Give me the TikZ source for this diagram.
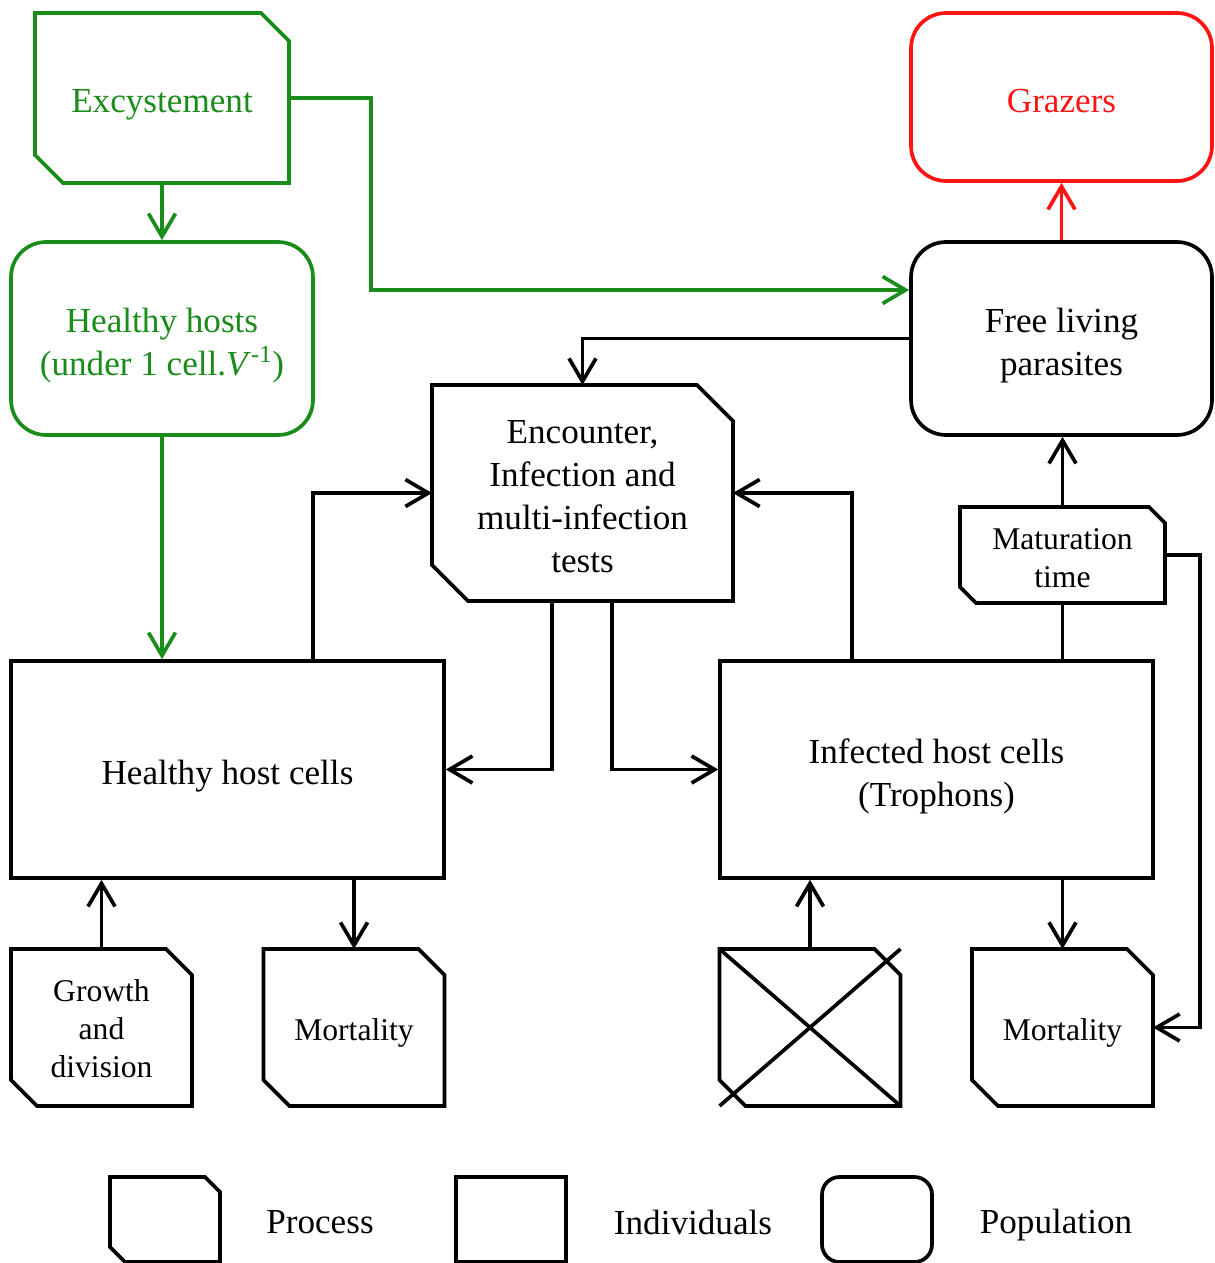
\documentclass[tikz,border=0pt]{standalone}
\usepackage{fontspec}
\setmainfont{Liberation Serif}
\usepackage{tikz}
\usetikzlibrary{arrows.meta}
\definecolor{hostgreen}{RGB}{26,140,26}
\definecolor{grazred}{RGB}{255,20,20}

% frame with two cut corners (north east and south west) round a named node
\newcommand{\procframe}[3][black]{%
  \draw[#1] (#2.north west) -- ([xshift=-#3]#2.north east) -- ([yshift=-#3]#2.north east)
    -- (#2.south east) -- ([xshift=#3]#2.south west) -- ([yshift=#3]#2.south west) -- cycle;}

\begin{document}
\begin{tikzpicture}[x=0.02cm, y=-0.02cm,
  line width=2.1pt, >={Straight Barb[length=0.46cm,width=0.54cm]},
  font=\fontsize{20}{24.5}\selectfont,
  process/.style={rectangle, outer sep=0pt, inner sep=0pt},
  indiv/.style={rectangle, draw},
  popul/.style={rectangle, rounded corners=0.7cm, draw},
  txt/.style={align=center, yshift=-0.14cm},
  small/.style={font=\fontsize{18}{21.6}\selectfont}]

\useasboundingbox (0,0) rectangle (1214,1263);

% top row : excystement, grazers
\path
(162,98) node [process, minimum width=5.08cm, minimum height=3.4cm,
  label={[txt, text=hostgreen]center:Excystement}] (excyst) {}
(1061.5,97) node [popul, grazred, minimum width=6.02cm, minimum height=3.36cm,
  label={[txt, text=grazred, yshift=0.06cm]center:Grazers}] (grazers) {};
\procframe[hostgreen]{excyst}{0.56cm}

% populations
\path
(162,338.5) node [popul, hostgreen, minimum width=6.04cm, minimum height=3.86cm,
  label={[txt, text=hostgreen]center:{Healthy hosts\\(under 1 cell.\textit{V}\textsuperscript{-1})}}] (hhosts) {}
(1061.5,338.5) node [popul, minimum width=6.02cm, minimum height=3.86cm,
  label={[txt]center:{Free living\\parasites}}] (freeliv) {};

% encounter and maturation
\path
(582.5,493) node [process, minimum width=6.02cm, minimum height=4.32cm,
  label={[txt, yshift=0.06cm]center:{Encounter,\\Infection and\\multi-infection\\tests}}] (encount) {}
(1062.5,555) node [process, minimum width=4.1cm, minimum height=1.92cm,
  label={[txt, small, yshift=0.08cm]center:{Maturation\\time}}] (matur) {};
\procframe{encount}{0.72cm}
\procframe{matur}{0.32cm}

% host cells
\path
(227.5,769.5) node [indiv, minimum width=8.66cm, minimum height=4.34cm,
  label={[txt]center:Healthy host cells}] (hcells) {}
(936.5,769.5) node [indiv, minimum width=8.66cm, minimum height=4.34cm,
  label={[txt]center:{Infected host cells\\(Trophons)}}] (icells) {};

% bottom processes
\path
(101.5,1027.5) node [process, minimum width=3.62cm, minimum height=3.14cm,
  label={[txt, small, yshift=0.12cm]center:{Growth\\and\\division}}] (growth) {}
(354,1027.5) node [process, minimum width=3.62cm, minimum height=3.14cm,
  label={[txt, small, yshift=0.04cm]center:Mortality}] (mort1) {}
(810,1027.5) node [process, minimum width=3.62cm, minimum height=3.14cm] (crossed) {}
(1062.5,1027.5) node [process, minimum width=3.62cm, minimum height=3.14cm,
  label={[txt, small, yshift=0.04cm]center:Mortality}] (mort2) {};
\foreach \n in {growth, mort1, crossed, mort2}
  \procframe{\n}{0.52cm};
\draw (crossed.north west) -- (crossed.south east);
\draw (crossed.south west) -- (crossed.north east);

% legend
\path
(165,1219.5) node [process, minimum width=2.2cm, minimum height=1.7cm] (legproc) {}
(320,1222) node (legproct) {Process}
(511,1219.5) node [indiv, minimum width=2.2cm, minimum height=1.7cm] (legind) {}
(693,1222) node (legindt) {Individuals}
(877,1219.5) node [popul, rounded corners=0.35cm, minimum width=2.2cm, minimum height=1.7cm] (legpop) {}
(1056,1225) node (legpopt) {Population};
\procframe{legproc}{0.3cm}

% green arrows
\draw[->, hostgreen] (excyst.south) -- (hhosts.north);
\draw[->, hostgreen] (hhosts.south) -- (hhosts.south |- hcells.north);
\draw[->, hostgreen] (excyst.east) -- ++(1.64cm,0) |- ([yshift=0.97cm]freeliv.west);

% red arrow
\draw[->, grazred] (freeliv.north) -- (grazers.south);

% black arrows
\draw[->] (freeliv.west) -| (encount.north);
\draw[->] ([xshift=1.71cm]hcells.north) |- (encount.west);
\draw[->] ([xshift=-1.69cm]icells.north) |- (encount.east);
\draw[->] ([xshift=-0.61cm]encount.south) |- (hcells.east);
\draw[->] ([xshift=0.59cm]encount.south) |- (icells.west);
\draw (matur.south |- icells.north) -- (matur.south);
\draw[->] (matur.north) -- (matur.north |- freeliv.south);
\draw[->] (matur.east) -- ++(0.7cm,0) |- (mort2.east);
\draw[->] (growth.north) -- (growth.north |- hcells.south);
\draw[->] (hcells.south -| mort1.north) -- (mort1.north);
\draw[->] (crossed.north) -- (crossed.north |- icells.south);
\draw[->] (icells.south -| mort2.north) -- (mort2.north);

\end{tikzpicture}
\end{document}
